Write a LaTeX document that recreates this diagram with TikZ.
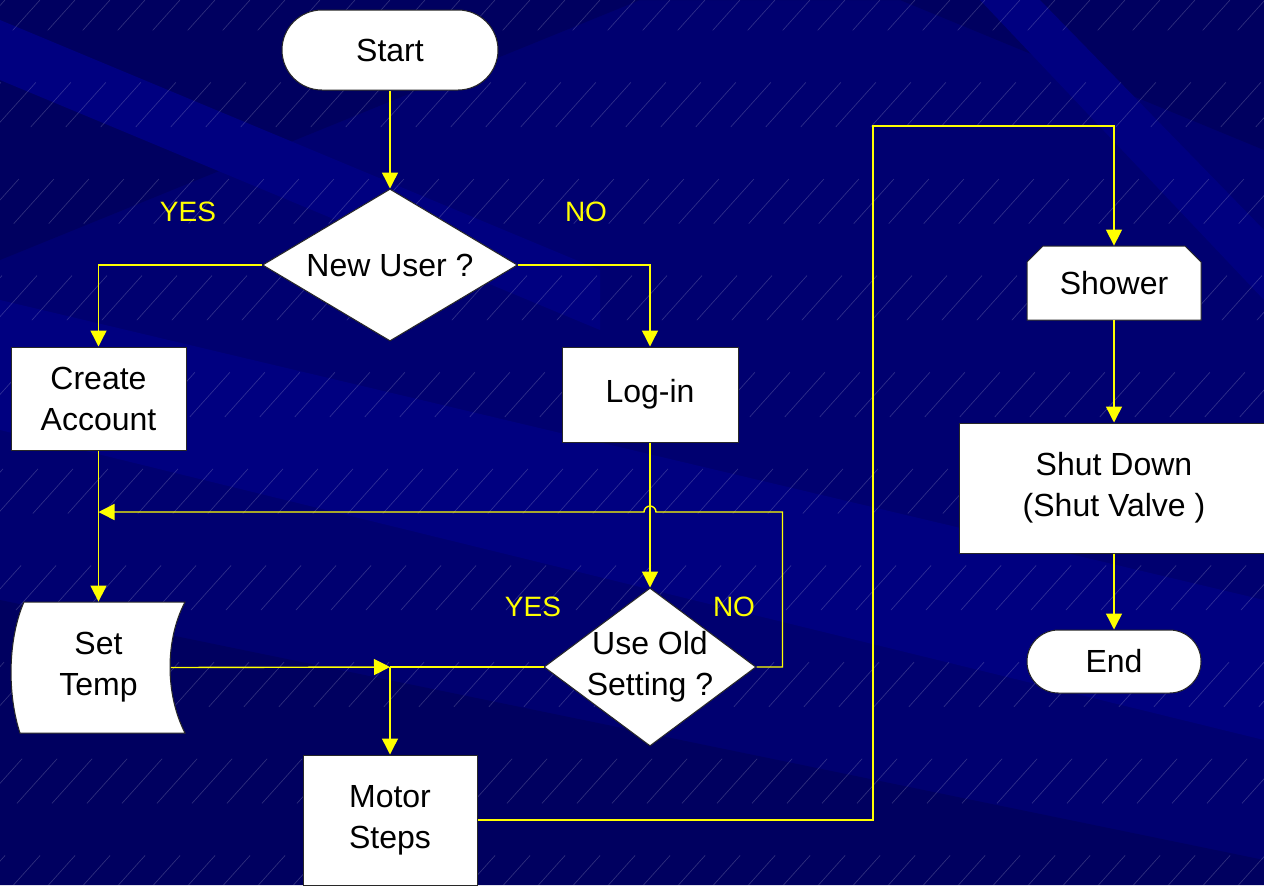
\documentclass[tikz,border=0pt]{standalone}
\usepackage{fontspec}
\setmainfont{Liberation Sans}
\usepackage{xcolor}
\definecolor{navybase}{RGB}{0, 0, 112}
\definecolor{navydark}{RGB}{0, 0, 96}
\definecolor{navylight}{RGB}{0, 0, 128}
\definecolor{flowyellow}{RGB}{255, 255, 0}
\definecolor{edgegrey}{RGB}{40, 40, 40}
\usetikzlibrary{arrows.meta, positioning, calc, shapes.geometric}

\tikzset{
  boxfill/.style={fill=white, draw=edgegrey, line width=0.5pt},
  stepbox/.style={boxfill, rectangle, inner sep=0pt, align=center},
  termbox/.style={stepbox, rounded corners=#1},
  decision/.style={boxfill, diamond, inner sep=0pt},
  plaintxt/.style={inner sep=0pt, align=center},
  flow/.style={draw=flowyellow, line width=0.7pt, -{Triangle[length=8pt,width=8pt]}},
  wire/.style={draw=flowyellow, line width=0.7pt},
  answer/.style={text=flowyellow, font=\fontsize{14}{16}\selectfont},
  stripe/.style={white, opacity=0.2, line width=0.3pt, dash pattern=on 30pt off 35pt},
}

\begin{document}
\begin{tikzpicture}[x=0.5pt, y=-0.5pt, font=\fontsize{16}{20.5}\selectfont]
    \useasboundingbox (0,0) rectangle (1264,885);

    % background
    \fill[navybase] (0,0) rectangle (1264,885);
    \fill[navydark] (0,0) -- (640,0) -- (0,260) -- cycle;
    \fill[navydark] (640,0) -- (1264,0) -- (1264,150) -- (900,0) -- cycle;
    \fill[navylight] (0,300) -- (1264,600) -- (1264,740) -- (0,430) -- cycle;
    \fill[navylight] (0,20) -- (0,80) -- (600,330) -- (600,270) -- cycle;
    \fill[navydark] (0,600) -- (0,885) -- (1264,885) -- (1264,860) -- cycle;
    \fill[navylight] (980,0) -- (1040,0) -- (1264,230) -- (1264,300) -- cycle;
    \foreach \k in {-840,-805,...,1264}
        \draw[stripe] (\k,900) -- ++(810,-900);

    % shapes
    \node[termbox=20pt, minimum width=108pt, minimum height=40pt] (start) at (390,50) {Start};
    \node[decision, minimum width=127.5pt, minimum height=76pt] (newuser) at (390,265) {};
    \node[plaintxt] (newusertxt) at (newuser) {New User ?};
    \node[stepbox, minimum width=87.5pt, minimum height=51.5pt] (create) at (98.5,398.5) {Create\\Account};
    \node[stepbox, minimum width=88pt, minimum height=47.5pt] (login) at (650,394.5) {Log-in};

    \filldraw[boxfill] (24,602) -- (185,602) .. controls (165,640) and (165,694) .. (185,733)
        -- (20,733) .. controls (7.5,695) and (7.5,640) .. (24,602) -- cycle;
    \node[plaintxt, minimum width=72pt, minimum height=65.5pt] (settemp) at (98.5,667.5) {Set\\Temp};

    \node[decision, minimum width=106pt, minimum height=79pt] (useold) at (650,667) {};
    \node[plaintxt] (useoldtxt) at (useold) {Use Old\\Setting ?};
    \node[stepbox, minimum width=87pt, minimum height=65pt] (motor) at (390,820) {Motor\\Steps};

    \filldraw[boxfill] (1027,320) -- (1027,262) -- (1043,246) -- (1185,246) -- (1201,262) -- (1201,320) -- cycle;
    \node[plaintxt, minimum width=87pt, minimum height=37pt] (shower) at (1114,283) {Shower};
    \node[stepbox, minimum width=155pt, minimum height=65pt] (shutdown) at (1114,488) {Shut Down\\(Shut Valve )};
    \node[termbox=15.75pt, minimum width=87pt, minimum height=31.5pt] (finish) at (1114,661.5) {End};

    % connectors
    \draw[flow] (start.south) -- (newuser.north);
    \draw[flow] (newuser.west) -| (create.north);
    \draw[flow] (newuser.east) -| (login.north);
    \draw[flow] (create.south) -- (settemp.north);
    \draw[flow] (login.south) -- (useold.north);

    \coordinate (hop) at (login.south |- 0,512);
    \coordinate (loopturn) at ($(useold.east)+(26,0)$);
    \draw[flow] (useold.east) -- (loopturn) |- ($(hop)+(6,0)$)
        arc[start angle=0, end angle=-180, radius=6] -- (create.south |- hop);

    \coordinate (merge) at (motor.north |- useold.west);
    \draw[flow] (settemp.east) -- (merge);
    \draw[wire] (useold.west) -- (merge);
    \draw[flow] (merge) -- (motor.north);

    \coordinate (riser) at (873,126);
    \draw[flow] (motor.east) -| (riser) -| (shower.north);
    \draw[flow] (shower.south) -- (shutdown.north);
    \draw[flow] (shutdown.south) -- (finish.north);

    % answers
    \node[answer] (yesnew) at (188,212) {YES};
    \node[answer] (nonew) at (586,212) {NO};
    \node[answer] (yesold) at (533,607) {YES};
    \node[answer] (noold) at (734,607) {NO};
\end{tikzpicture}
\end{document}
